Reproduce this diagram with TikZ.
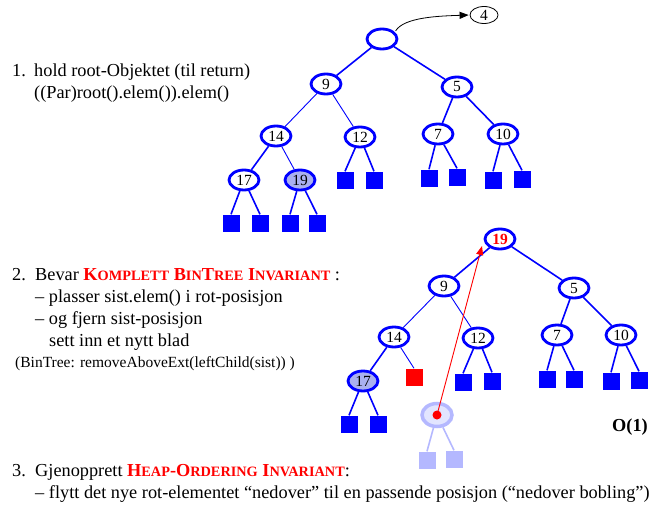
\documentclass[tikz,border=0pt]{standalone}
\usepackage{fontspec}
\setmainfont{Liberation Serif}
\usetikzlibrary{shapes.geometric,arrows.meta}

\definecolor{treeblue}{RGB}{0,0,255}
\definecolor{lavender}{RGB}{170,176,240}
\definecolor{fadeblue}{RGB}{180,184,255}
\definecolor{fadefill}{RGB}{226,229,255}
\definecolor{hot}{RGB}{255,0,0}

% faked small capitals
\newcommand{\sm}[1]{{\fontsize{14.3}{14.3}\selectfont #1}}

\begin{document}
\begin{tikzpicture}[x=1pt,y=-1pt,
  key/.style={ellipse, draw=treeblue, line width=2.8pt, minimum width=30pt,
    minimum height=20pt, inner sep=0pt, fill=white, font=\fontsize{15.5}{15.5}\selectfont},
  hot key/.style={key, fill=lavender},
  leaf/.style={rectangle, fill=treeblue, minimum size=17pt, inner sep=0pt},
  dead leaf/.style={leaf, fill=fadeblue},
  edge/.style={draw=treeblue, line width=1.6pt},
  thin edge/.style={draw=treeblue, line width=0.9pt},
  txt/.style={anchor=base west, inner sep=0pt, font=\fontsize{18.3}{18.3}\selectfont},
  ]
\useasboundingbox (0,0) rectangle (669,508);

% ---------- heap before removal ----------
\node[key] (r1) at (382,39) {};
\node[ellipse, draw, line width=0.8pt, minimum width=28pt, minimum height=17pt,
  inner sep=0pt, font=\fontsize{15.5}{15.5}\selectfont] (four) at (484,15) {4};
\node[key] (a9) at (326,84) {9};
\node[key] (a5) at (457,87) {5};
\node[key] (a14) at (276,136) {14};
\node[key] (a12) at (360,137) {12};
\node[key] (a7) at (438,134) {7};
\node[key] (a10) at (503,134) {10};
\node[key] (a17) at (244,180) {17};
\node[hot key] (a19) at (300,180) {19};
\node[leaf] (l12a) at (345,180) {};
\node[leaf] (l12b) at (374,180) {};
\node[leaf] (l7a) at (429,178) {};
\node[leaf] (l7b) at (457,177) {};
\node[leaf] (l10a) at (493,180) {};
\node[leaf] (l10b) at (522,179) {};
\node[leaf] (l17a) at (231,223) {};
\node[leaf] (l17b) at (260,223) {};
\node[leaf] (l19a) at (290,223) {};
\node[leaf] (l19b) at (317,223) {};

\draw[edge] (r1) -- (a9);
\draw[edge] (r1) -- (a5);
\draw[thin edge] (a9) -- (a14);
\draw[thin edge] (a9) -- (a12);
\draw[edge] (a5) -- (a7);
\draw[edge] (a5) -- (a10);
\draw[edge] (a14) -- (a17);
\draw[thin edge] (a14) -- (a19);
\draw[edge] (a12) -- (l12a.north);
\draw[edge] (a12) -- (l12b.north);
\draw[edge] (a7) -- (l7a.north);
\draw[edge] (a7) -- (l7b.north);
\draw[edge] (a10) -- (l10a.north);
\draw[edge] (a10) -- (l10b.north);
\draw[edge] (a17) -- (l17a.north);
\draw[edge] (a17) -- (l17b.north);
\draw[edge] (a19) -- (l19a.north);
\draw[edge] (a19) -- (l19b.north);

\draw[line width=0.8pt, -{Triangle[length=9pt,width=7pt]}, shorten >=1pt]
  ([xshift=2pt]r1.north east) .. controls (404,17) and (440,16) .. (four.west);

% ---------- heap after moving the last element up ----------
\node[key, font=\bfseries\fontsize{15.5}{15.5}\selectfont, text=hot] (r2) at (500,239) {19};
\node[key] (b9) at (444,286) {9};
\node[key] (b5) at (574,288) {5};
\node[key] (b14) at (394,337) {14};
\node[key] (b12) at (478,338) {12};
\node[key] (b7) at (557,335) {7};
\node[key] (b10) at (621,335) {10};
\node[hot key] (b17) at (363,381) {17};
\node[leaf, fill=hot] (newleaf) at (414,377) {};
\node[leaf] (m12a) at (463,382) {};
\node[leaf] (m12b) at (492,381) {};
\node[leaf] (m7a) at (547,379) {};
\node[leaf] (m7b) at (574,379) {};
\node[leaf] (m10a) at (611,381) {};
\node[leaf] (m10b) at (639,380) {};
\node[leaf] (m17a) at (349,424) {};
\node[leaf] (m17b) at (378,424) {};

% removed position
\node[ellipse, draw=fadeblue, fill=fadefill, line width=3.5pt, minimum width=30pt,
  minimum height=23pt, inner sep=0pt] (gone) at (437,415) {};
\node[dead leaf] (ga) at (427,460) {};
\node[dead leaf] (gb) at (454,459) {};
\draw[draw=fadeblue, line width=1.6pt] (gone) -- (ga.north);
\draw[draw=fadeblue, line width=1.6pt] (gone) -- (gb.north);

\draw[edge] (r2) -- (b9);
\draw[edge] (r2) -- (b5);
\draw[thin edge] (b9) -- (b14);
\draw[thin edge] (b9) -- (b12);
\draw[edge] (b5) -- (b7);
\draw[edge] (b5) -- (b10);
\draw[edge] (b14) -- (b17);
\draw[thin edge] (b14) -- (newleaf.north);
\draw[edge] (b12) -- (m12a.north);
\draw[edge] (b12) -- (m12b.north);
\draw[edge] (b7) -- (m7a.north);
\draw[edge] (b7) -- (m7b.north);
\draw[edge] (b10) -- (m10a.north);
\draw[edge] (b10) -- (m10b.north);
\draw[edge] (b17) -- (m17a.north);
\draw[edge] (b17) -- (m17b.north);

\fill[hot] (gone.center) circle (4.5pt);
\coordinate (hit) at (482,246);
\draw[hot, line width=0.9pt, -{Triangle[length=9pt,width=7pt]}] (gone.center) -- (hit);

\node[font=\bfseries\fontsize{18.3}{18.3}\selectfont] (cost) at (630,427) {O(1)};

% ---------- text ----------
\node[txt] (n1) at (12,77) {1.};
\node[txt] (s1a) at (34,77) {hold root-Objektet (til return)};
\node[txt] (s1b) at (34,99) {((Par)root().elem()).elem()};

\node[txt] (n2) at (12,280) {2.};
\node[txt] (s2a) at (35,280) {Bevar \textcolor{hot}{\bfseries K\sm{OMPLETT} B\sm{IN}T\sm{REE} I\sm{NVARIANT}} :};
\node[txt] (s2b) at (35,302) {– plasser sist.elem() i rot-posisjon};
\node[txt] (s2c) at (35,324) {– og fjern sist-posisjon};
\node[txt] (s2d) at (49,346) {sett inn et nytt blad};
\node[txt, font=\fontsize{15.5}{15.5}\selectfont] (s2e) at (15,367) {(BinTree: removeAboveExt(leftChild(sist)) )};

\node[txt] (n3) at (12,476) {3.};
\node[txt] (s3a) at (35,476) {Gjenopprett \textcolor{hot}{\bfseries H\sm{EAP}-O\sm{RDERING} I\sm{NVARIANT}}:};
\node[txt] (s3b) at (35,498) {– flytt det nye rot-elementet “nedover” til en passende posisjon (“nedover bobling”)};
\end{tikzpicture}
\end{document}
